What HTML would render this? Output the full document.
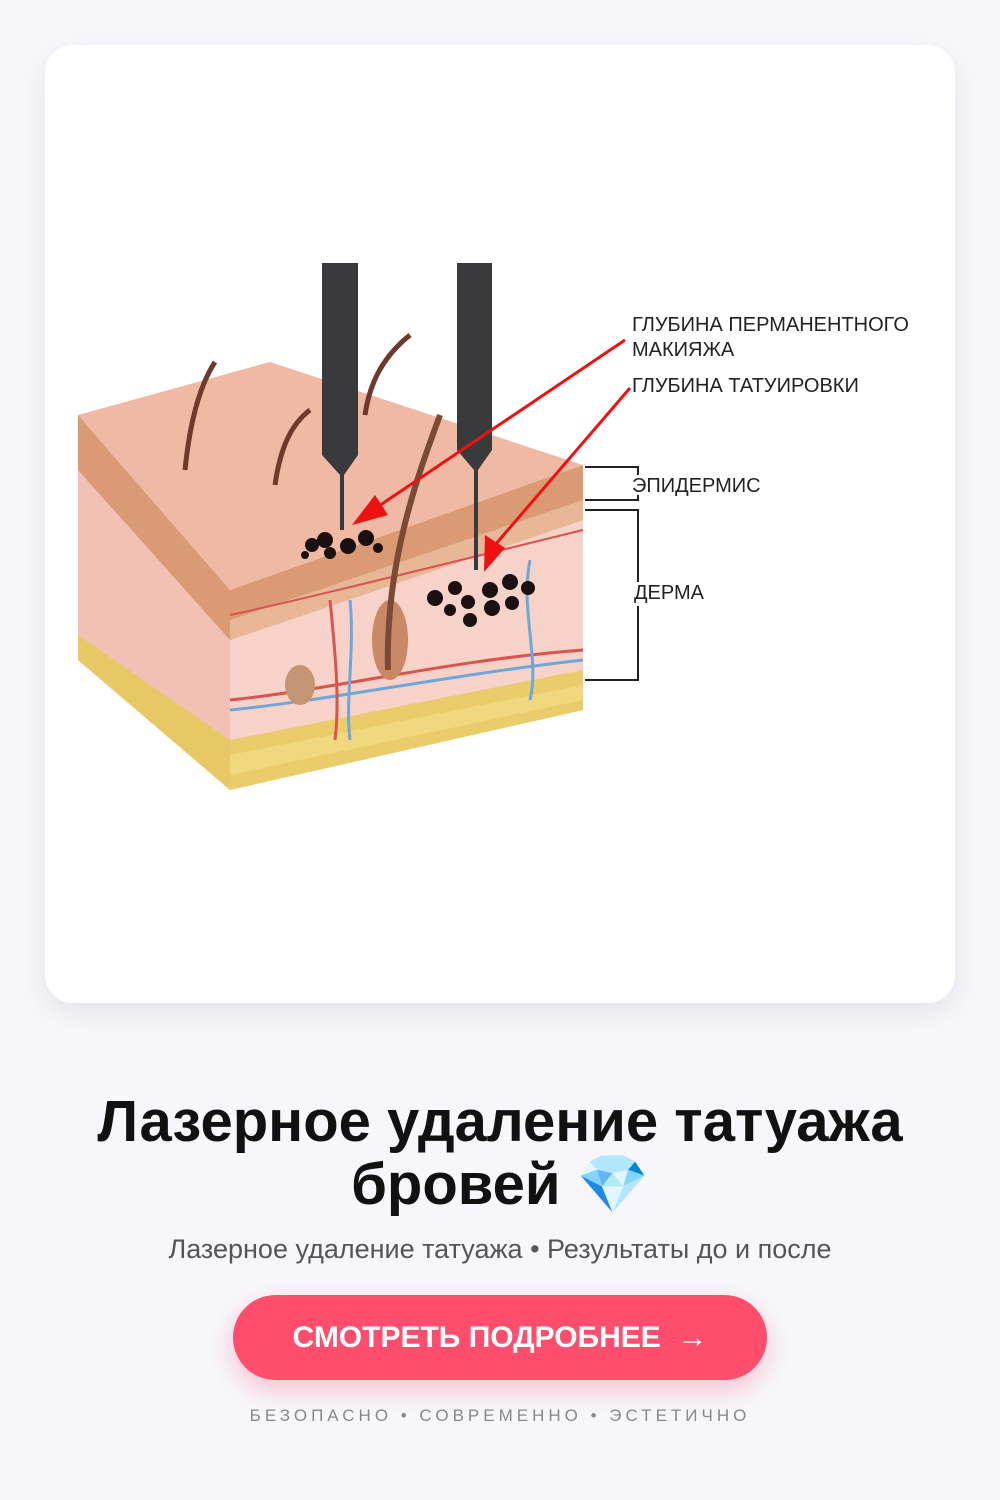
<!DOCTYPE html>
<html><head><meta charset="utf-8"><style>
html,body{margin:0;padding:0}
body{width:1000px;height:1500px;background:#f6f6fb;font-family:"Liberation Sans","Noto Sans CJK SC",sans-serif;position:relative;overflow:hidden}
.card{position:absolute;left:45px;top:45px;width:910px;height:958px;background:#fff;border-radius:28px;box-shadow:0 10px 30px rgba(0,0,0,.08)}
.title{position:absolute;left:0;width:1000px;top:1090px;text-align:center;font-weight:bold;font-size:58px;line-height:63px;color:#111}
.sub{position:absolute;left:0;width:1000px;top:1234px;text-align:center;font-size:27px;color:#555}
.btn{position:absolute;left:233px;top:1295px;width:534px;height:85px;border-radius:43px;background:#ff4d6d;color:#fff;font-weight:bold;font-size:30px;line-height:85px;text-align:center;box-shadow:0 10px 24px rgba(255,77,109,.3)}
.foot{position:absolute;left:0;width:1000px;top:1406px;text-align:center;font-size:17px;letter-spacing:4px;color:#888}
</style></head><body>
<div class="card"></div>
<svg style="position:absolute;left:0;top:0" width="1000" height="1000">
<polygon points="78,415 230,590 230,790 78,660" fill="#f2c0b4"/>
<polygon points="230,590 583,465 583,710 230,790" fill="#f6d2c8"/>
<polygon points="78,635 230,740 230,790 78,660" fill="#e8c865"/>
<polygon points="230,740 583,670 583,710 230,790" fill="#eacd6a"/>
<polygon points="230,755 583,685 583,700 230,775" fill="#f3dc86" opacity=".7"/>
<polygon points="78,415 230,590 583,465 583,520 230,640 78,470" fill="#d99a74"/>
<polygon points="230,620 583,500 583,520 230,640" fill="#e8b795"/>
<polygon points="78,415 270,362 583,465 230,590" fill="#f0b9a3"/>
<path d="M230,700 C330,690 450,660 583,650" stroke="#d9534f" stroke-width="3" fill="none"/>
<path d="M230,710 C330,700 450,675 583,660" stroke="#6fa8d8" stroke-width="3" fill="none"/>
<path d="M230,615 C300,600 420,570 583,530" stroke="#d9534f" stroke-width="2" fill="none"/>
<path d="M350,600 C355,650 345,700 350,740" stroke="#6fa8d8" stroke-width="3" fill="none"/>
<path d="M330,600 C335,650 340,700 335,740" stroke="#d9534f" stroke-width="3" fill="none"/>
<path d="M530,560 C520,610 540,660 530,700" stroke="#6fa8d8" stroke-width="3" fill="none"/>
<ellipse cx="390" cy="640" rx="18" ry="40" fill="#c98866"/>
<path d="M388,670 C385,560 420,470 440,415" stroke="#7b4a36" stroke-width="6" fill="none"/>
<ellipse cx="300" cy="685" rx="15" ry="20" fill="#c49572"/>
<path d="M185,470 C190,420 200,385 215,362" stroke="#6e3a2c" stroke-width="5" fill="none"/>
<path d="M275,485 C280,450 290,425 310,410" stroke="#6e3a2c" stroke-width="5" fill="none"/>
<path d="M365,415 C370,380 385,355 410,335" stroke="#6e3a2c" stroke-width="5" fill="none"/>
<polygon points="322,263 358,263 358,455 344,475 344,530 340,530 340,475 322,455" fill="#3a3a3c"/>
<polygon points="457,263 492,263 492,450 478,470 478,570 474,570 474,470 457,450" fill="#3a3a3c"/>
<g fill="#1a1010">
<circle cx="312" cy="545" r="7"/><circle cx="325" cy="540" r="8"/><circle cx="330" cy="553" r="6"/><circle cx="348" cy="546" r="8"/><circle cx="366" cy="538" r="8"/><circle cx="378" cy="548" r="5"/><circle cx="305" cy="555" r="4"/>
<circle cx="435" cy="598" r="8"/><circle cx="455" cy="588" r="7"/><circle cx="468" cy="602" r="7"/><circle cx="490" cy="590" r="8"/><circle cx="510" cy="582" r="8"/><circle cx="528" cy="588" r="7"/><circle cx="450" cy="610" r="6"/><circle cx="470" cy="620" r="7"/><circle cx="492" cy="608" r="8"/><circle cx="512" cy="603" r="7"/>
</g>
<line x1="625" y1="340" x2="370" y2="512" stroke="#e11" stroke-width="3"/>
<polygon points="352,525 375,495 388,515" fill="#e11"/>
<line x1="630" y1="388" x2="495" y2="545" stroke="#e11" stroke-width="3"/>
<polygon points="484,572 485,535 505,548" fill="#e11"/>
<g stroke="#222" stroke-width="2" fill="none">
<path d="M585,467 H638 V500 H585"/>
<path d="M585,510 H638 V680 H585"/>
</g>
<g font-size="20" fill="#222" font-family="Liberation Sans, sans-serif">
<text x="632" y="331">ГЛУБИНА ПЕРМАНЕНТНОГО</text>
<text x="632" y="356">МАКИЯЖА</text>
<text x="632" y="392">ГЛУБИНА ТАТУИРОВКИ</text>
<text x="632" y="492" fill="#fff" stroke="#fff" stroke-width="6">ЭПИДЕРМИС</text>
<text x="632" y="492">ЭПИДЕРМИС</text>
<text x="634" y="599" fill="#fff" stroke="#fff" stroke-width="6">ДЕРМА</text>
<text x="634" y="599">ДЕРМА</text>
</g>
</svg>
<div class="title">Лазерное удаление татуажа<br>бровей <span style="font-family:'DejaVu Sans',sans-serif;color:#6cc6f0">💎</span></div>
<div class="sub">Лазерное удаление татуажа • Результаты до и после</div>
<div class="btn">СМОТРЕТЬ ПОДРОБНЕЕ &nbsp;→</div>
<div class="foot">БЕЗОПАСНО • СОВРЕМЕННО • ЭСТЕТИЧНО</div>
</body></html>
